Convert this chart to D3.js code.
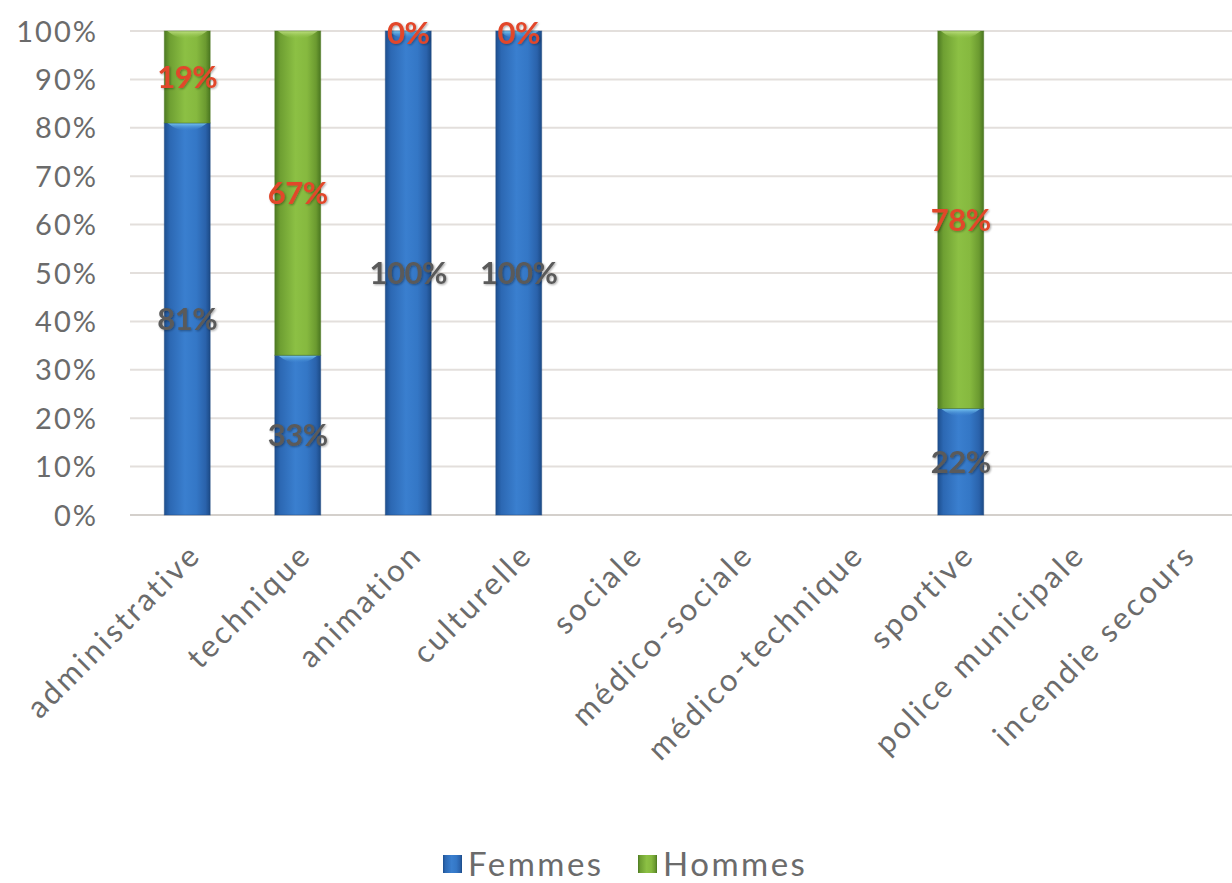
<!DOCTYPE html>
<html><head><meta charset="utf-8">
<script src="https://cdn.jsdelivr.net/npm/d3@7"></script>
<style>
html,body{margin:0;padding:0;background:#fff;}
svg{display:block;}
</style></head>
<body>
<svg id="chart" width="1232" height="883"></svg>
<script>
const categories = ["administrative","technique","animation","culturelle","sociale","médico-sociale","médico-technique","sportive","police municipale","incendie secours"];
const femmes = [81,33,100,100,0,0,0,22,0,0];
const hommes = [19,67,0,0,0,0,0,78,0,0];
const showLabel = [true,true,true,true,false,false,false,true,false,false];
const yTicks = [0,10,20,30,40,50,60,70,80,90,100];
const seriesNames = ["Femmes","Hommes"];

(function(){
const svg = d3.select("#chart");
const W = 1232;
const plotLeft = 132, plotW = 1105, plotTop = 31, plotBottom = 515;
const FONT = "Lato, 'Open Sans', sans-serif";

const x = d3.scaleBand().domain(categories).range([plotLeft, plotLeft + plotW]).paddingInner(0.585).paddingOuter(0.2925);
const y = d3.scaleLinear().domain([0,100]).range([plotBottom, plotTop]);

const defs = svg.append("defs");
function grad(id, stops){
  const g = defs.append("linearGradient").attr("id", id).attr("x1","0").attr("x2","1").attr("y1","0").attr("y2","0");
  stops.forEach(s => g.append("stop").attr("offset", s[0]).attr("stop-color", s[1]));
}
grad("gBlue", [[0,"#1d4f8f"],[0.12,"#2c68b3"],[0.45,"#3a7fcf"],[0.7,"#3477c6"],[0.9,"#2a62ab"],[1,"#1b4a86"]]);
grad("gGreen", [[0,"#4d7a22"],[0.12,"#6e9f32"],[0.45,"#8cc044"],[0.7,"#86b93f"],[0.9,"#6b9a30"],[1,"#4a7620"]]);
const hb = defs.append("linearGradient").attr("id","hBlue").attr("x1","0").attr("x2","0").attr("y1","0").attr("y2","1");
hb.append("stop").attr("offset",0).attr("stop-color","#7fd0f5").attr("stop-opacity",0.95);
hb.append("stop").attr("offset",1).attr("stop-color","#3a7fcf").attr("stop-opacity",0);
const hg = defs.append("linearGradient").attr("id","hGreen").attr("x1","0").attr("x2","0").attr("y1","0").attr("y2","1");
hg.append("stop").attr("offset",0).attr("stop-color","#c6e48a").attr("stop-opacity",0.9);
hg.append("stop").attr("offset",1).attr("stop-color","#8cc044").attr("stop-opacity",0);
const blur = defs.append("filter").attr("id","shadow").attr("x","-20%").attr("y","-20%").attr("width","140%").attr("height","140%");
blur.append("feGaussianBlur").attr("in","SourceAlpha").attr("stdDeviation",1.2).attr("result","b");
blur.append("feOffset").attr("in","b").attr("dx",1).attr("dy",1).attr("result","o");
blur.append("feComponentTransfer").attr("in","o").attr("result","o2").append("feFuncA").attr("type","linear").attr("slope",0.35);
const m = blur.append("feMerge");
m.append("feMergeNode").attr("in","o2");
m.append("feMergeNode").attr("in","SourceGraphic");

// gridlines
svg.append("g").selectAll("line").data(yTicks).join("line")
  .attr("x1", plotLeft - 2).attr("x2", W)
  .attr("y1", d => y(d)).attr("y2", d => y(d))
  .attr("stroke", d => d === 0 ? "#d4d0cc" : "#e3dfdc").attr("stroke-width", 2);

// y axis labels
const yAxis = d3.axisLeft(y).tickValues(yTicks).tickFormat(d => d + "%").tickSize(0).tickPadding(0);
const ya = svg.append("g").attr("transform", `translate(${plotLeft - 34},0)`).call(yAxis);
ya.select(".domain").remove();
ya.selectAll("text").attr("font-family", FONT).attr("font-size", 29).attr("letter-spacing", 2)
  .attr("fill","#6b6b6b").attr("dy","0.35em");

// stacked bars
const rows = categories.map((c,i) => ({cat:c, Femmes:femmes[i], Hommes:hommes[i], show:showLabel[i]}));
const stack = d3.stack().keys(seriesNames)(rows);
const fills = {Femmes:"url(#gBlue)", Hommes:"url(#gGreen)"};
const hl = {Femmes:"url(#hBlue)", Hommes:"url(#hGreen)"};
const gBars = svg.append("g");
stack.forEach(s => {
  const g = gBars.append("g");
  s.forEach(d => {
    const h = y(d[0]) - y(d[1]);
    if (h <= 0) return;
    const bx = x(d.data.cat), bw = x.bandwidth(), by = y(d[1]);
    g.append("rect").attr("x", bx).attr("y", by).attr("width", bw).attr("height", h).attr("fill", fills[s.key]);
    g.append("path")
      .attr("d", `M${bx+3},${by} L${bx+bw-3},${by} Q${bx+bw/2},${by+16} ${bx+3},${by} Z`)
      .attr("fill", hl[s.key]);
    g.append("rect").attr("x", bx).attr("y", by).attr("width", bw).attr("height", h)
      .attr("fill","none").attr("stroke", s.key === "Femmes" ? "#1f4a80" : "#4a7520").attr("stroke-width",1).attr("stroke-opacity",0.5);
  });
});

// data labels
stack.forEach(s => {
  svg.append("g").selectAll("text").data(s.filter(d => d.data.show)).join("text")
    .attr("x", d => x(d.data.cat) + x.bandwidth()/2)
    .attr("y", d => d[1] - d[0] === 0 ? y(d[1]) + 2 : y((d[0]+d[1])/2))
    .attr("dy", "0.35em")
    .attr("text-anchor","middle")
    .attr("font-family", FONT)
    .attr("font-size", 31).attr("font-weight","bold")
    .attr("letter-spacing", -0.5)
    .attr("fill", s.key === "Femmes" ? "#5a5a5a" : "#e2462a")
    .attr("filter","url(#shadow)")
    .text(d => (d[1]-d[0]) + "%");
});

// x axis labels
const xl = svg.append("g");
categories.forEach(c => {
  const cx = x(c) + x.bandwidth()/2 + 8;
  xl.append("text")
    .attr("transform", `translate(${cx},${plotBottom + 34}) rotate(-45)`)
    .attr("text-anchor","end")
    .attr("dy","0.35em")
    .attr("font-family", FONT)
    .attr("font-size", 31).attr("letter-spacing", 2.8).attr("fill","#6b6b6b")
    .text(c);
});

// legend
const legend = svg.append("g").attr("transform","translate(0,864)");
const legItems = [{name:"Femmes", fill:"url(#gBlue)", x:443}, {name:"Hommes", fill:"url(#gGreen)", x:638}];
legItems.forEach(l => {
  legend.append("rect").attr("x", l.x).attr("y", -9).attr("width", 19).attr("height", 18).attr("fill", l.fill);
  legend.append("text").attr("x", l.x + 25).attr("y", 0).attr("dy","0.35em")
    .attr("font-family", FONT).attr("font-size", 33).attr("letter-spacing", 2.5).attr("fill","#6b6b6b").text(l.name);
});
})();
</script>
</body></html>
